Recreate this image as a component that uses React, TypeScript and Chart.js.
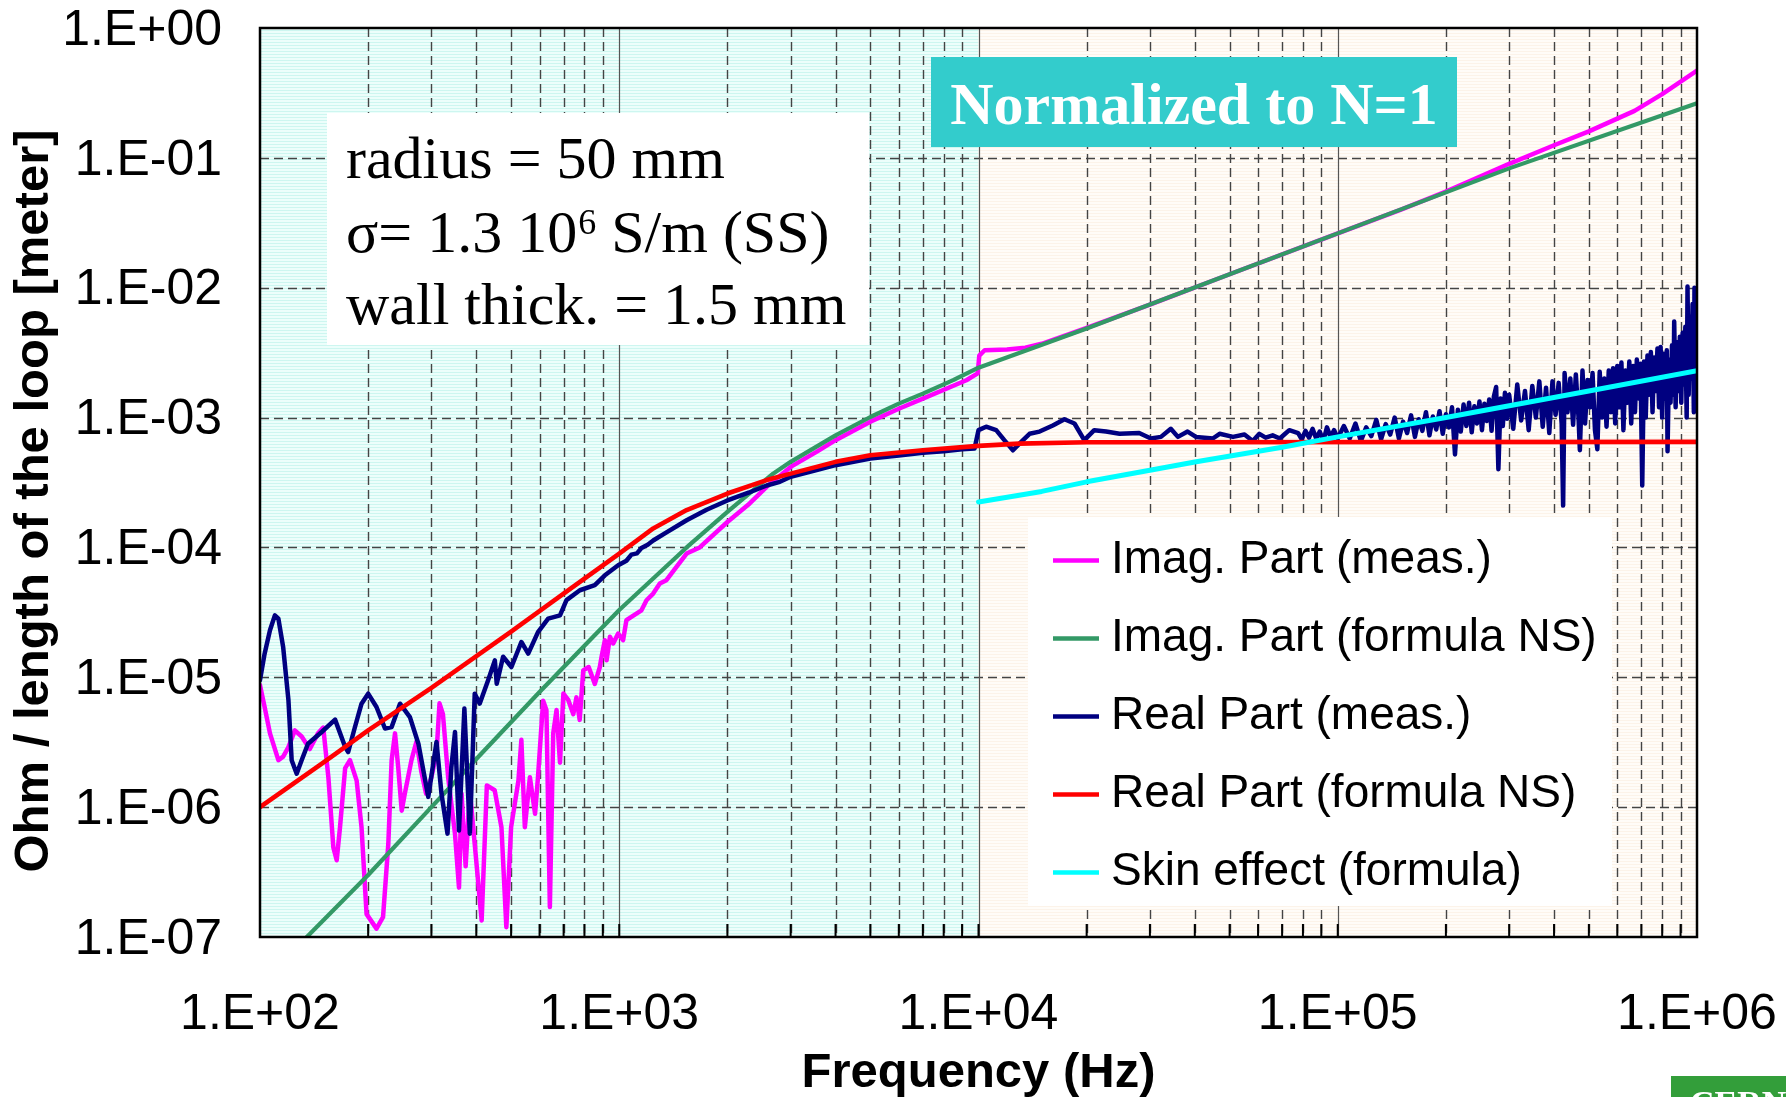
import React, { useEffect, useRef } from "react";
import { Chart, registerables } from "chart.js";

Chart.register(...registerables);

type Pt = [number, number];

const SANS = '"Liberation Sans", Arial, Helvetica, sans-serif';
const SERIF = '"Liberation Serif", "Times New Roman", Times, serif';

// Frequency (Hz) vs. impedance per unit length (Ohm/m)
const imagMeasured: Pt[] = [
  [100, 8.7e-6], [103, 5.9e-6], [106.6, 3.7e-6], [112.5, 2.3e-6], [116, 2.45e-6], [120, 2.9e-6],
  [125, 3.9e-6], [130.6, 3.5e-6], [137.6, 2.8e-6], [145, 3.7e-6], [150, 4.1e-6], [155, 1.7e-6],
  [160, 4.9e-7], [163.5, 3.9e-7], [167, 7.0e-7], [172.6, 2.0e-6], [178, 2.3e-6], [185.8, 1.6e-6],
  [191.7, 7.0e-7], [198, 1.5e-7], [211, 1.16e-7], [220, 1.42e-7], [227.6, 5.2e-7], [232.5, 2.3e-6],
  [237.6, 3.7e-6], [242.6, 2.0e-6], [248, 9.4e-7], [253, 1.27e-6], [264, 2.3e-6], [272.6, 3.2e-6],
  [281, 1.9e-6], [290, 1.27e-6], [300, 1.7e-6], [310, 2.6e-6], [316, 6.3e-6], [323, 5.2e-6],
  [334, 1.7e-6], [349, 6.2e-7], [358, 2.4e-7], [364, 1.27e-6], [373.6, 3.5e-7], [383.8, 1.35e-6],
  [396, 5.2e-7], [414, 1.34e-7], [428, 1.47e-6], [450, 1.35e-6], [470, 7.0e-7], [485, 1.19e-7],
  [500, 7.0e-7], [524, 1.6e-6], [534, 3.3e-6], [546, 7.0e-7], [564, 1.7e-6], [583, 8.9e-7],
  [594, 1.7e-6], [614, 6.6e-6], [627, 5.6e-6], [641, 1.7e-7], [655, 3.7e-6], [669, 5.6e-6],
  [684, 2.2e-6], [699, 7.5e-6], [721, 6.7e-6], [745, 5.2e-6], [760, 7.0e-6], [776, 4.7e-6],
  [794, 1.13e-5], [822, 1.2e-5], [855, 8.9e-6], [883, 1.2e-5], [893, 1.44e-5], [912, 1.93e-5],
  [922, 1.35e-5], [942, 2.05e-5], [962, 1.82e-5], [993, 2.17e-5], [1025, 1.93e-5], [1047, 2.75e-5],
  [1081, 2.92e-5], [1153, 3.28e-5], [1191, 3.92e-5], [1243, 4.41e-5], [1297, 5.27e-5], [1353, 5.59e-5],
  [1443, 7.08e-5], [1540, 8.97e-5], [1675, 1.0e-4], [2000, 1.57e-4], [2307, 2.18e-4], [2572, 2.93e-4],
  [3000, 4.17e-4], [3540, 5.44e-4], [4000, 6.7e-4], [5000, 9.3e-4], [6000, 1.17e-3], [7000, 1.4e-3],
  [9250, 1.94e-3], [9950, 2.19e-3], [10050, 3.0e-3], [10400, 3.3e-3], [12000, 3.35e-3], [13500, 3.45e-3],
  [15000, 3.7e-3], [20000, 4.9e-3], [30000, 7.4e-3], [50000, 1.27e-2], [100000, 2.62e-2], [150000, 4.0e-2],
  [200000, 5.5e-2], [300000, 9.0e-2], [400000, 0.125], [500000, 0.16], [670000, 0.23], [800000, 0.31],
  [1000000, 0.47],
];

const imagFormula: Pt[] = [
  [100, 4.0e-8], [135, 1.0e-7], [200, 3.0e-7], [300, 1.0e-6], [400, 2.35e-6], [600, 7.7e-6],
  [800, 1.75e-5], [1000, 3.3e-5], [1540, 1.0e-4], [2000, 1.88e-4], [2680, 3.7e-4], [3000, 4.56e-4],
  [4000, 7.3e-4], [5000, 1.01e-3], [6000, 1.28e-3], [7000, 1.53e-3], [8500, 1.94e-3], [10000, 2.42e-3],
  [20000, 4.85e-3], [50000, 1.27e-2], [100000, 2.62e-2], [300000, 8.3e-2], [1000000, 0.263],
];

const realMeasured: Pt[] = [
  [100, 9.5e-6], [103, 1.52e-5], [106.6, 2.3e-5], [110, 3.0e-5], [112.5, 2.83e-5], [116, 1.71e-5],
  [120, 6.65e-6], [122.5, 2.3e-6], [126.5, 1.81e-6], [130.6, 2.3e-6], [136, 3.08e-6], [148.5, 3.79e-6],
  [161.8, 4.72e-6], [172.6, 2.9e-6], [176, 2.66e-6], [183.8, 4.14e-6], [191.7, 6.26e-6], [200, 7.48e-6],
  [211, 5.9e-6], [222.8, 4.03e-6], [232.5, 4.14e-6], [245.3, 6.26e-6], [261.4, 4.94e-6], [276, 3.08e-6],
  [294, 1.2e-6], [310, 3.18e-6], [320, 1.27e-6], [332.6, 6.25e-7], [341, 2.04e-6], [349, 3.79e-6],
  [358, 6.6e-7], [370.6, 5.74e-6], [383.8, 6.25e-7], [396, 7.48e-6], [409, 6.27e-6], [431.5, 9.5e-6],
  [450.5, 1.35e-5], [456, 8.9e-6], [475, 1.44e-5], [501, 1.2e-5], [534, 1.87e-5], [558, 1.52e-5],
  [594, 2.23e-5], [634, 2.83e-5], [684, 3.0e-5], [713, 3.93e-5], [777, 4.68e-5], [855, 5.12e-5],
  [912, 6.1e-5], [993, 7.3e-5], [1047, 7.9e-5], [1081, 8.8e-5], [1120, 9.0e-5], [1153, 9.9e-5],
  [1200, 1.05e-4], [1243, 1.13e-4], [1350, 1.3e-4], [1540, 1.62e-4], [1750, 1.95e-4], [2000, 2.3e-4],
  [2300, 2.65e-4], [2572, 3.0e-4], [2800, 3.2e-4], [3000, 3.5e-4], [3500, 3.9e-4], [4000, 4.3e-4],
  [5000, 4.84e-4], [6000, 5.1e-4], [7000, 5.35e-4], [8000, 5.5e-4], [9000, 5.7e-4], [9750, 5.78e-4],
  [10000, 8.0e-4], [10500, 8.5e-4], [11200, 8.0e-4], [11800, 6.7e-4], [12470, 5.6e-4], [13150, 6.5e-4],
  [13870, 7.5e-4], [14790, 7.8e-4], [16100, 8.7e-4], [17350, 9.7e-4], [18500, 9.0e-4], [19700, 6.7e-4],
  [21000, 8.0e-4], [22650, 7.8e-4], [24700, 7.5e-4], [28000, 7.6e-4], [30200, 6.9e-4], [32200, 7.1e-4],
  [34300, 8.2e-4], [35900, 7.1e-4], [38200, 7.8e-4], [40300, 7.1e-4], [44900, 6.9e-4], [46900, 7.5e-4],
  [51100, 7.1e-4], [55000, 7.4e-4], [58000, 6.6e-4], [60500, 7.5e-4], [63000, 7.0e-4], [65900, 7.3e-4],
  [69000, 6.9e-4], [71000, 7.4e-4], [73300, 8.0e-4],
  [77600, 7.6e-4], [79400, 6.8e-4], [81300, 7.9e-4], [83200, 7.0e-4], [85100, 8.2e-4], [87100, 6.9e-4],
  [89100, 7.8e-4], [91200, 6.6e-4], [93300, 8.4e-4], [95500, 7.1e-4], [97700, 8.0e-4], [100000, 6.9e-4],
  [104000, 8.6e-4], [108000, 6.9e-4], [112000, 9.0e-4], [116000, 6.6e-4], [120000, 8.4e-4], [124000, 7.2e-4],
  [128000, 9.6e-4], [132000, 6.8e-4], [136000, 8.9e-4], [140000, 7.4e-4], [144000, 1.0e-3], [148000, 6.9e-4],
  [152000, 9.3e-4], [156000, 7.6e-4], [160000, 1.04e-3], [164000, 7.1e-4], [168000, 9.7e-4], [172000, 7.9e-4],
  [176000, 1.1e-3], [180000, 7.3e-4], [184000, 1.02e-3], [188000, 8.1e-4], [192000, 1.12e-3], [196000, 7.5e-4],
  [200000, 1.06e-3], [204000, 8.4e-4], [208000, 1.2e-3], [212000, 5.2e-4], [216000, 1.15e-3], [220000, 7.8e-4],
  [224000, 1.26e-3], [228000, 8.6e-4], [232000, 1.3e-3], [236000, 7.7e-4], [240000, 1.22e-3], [244000, 9.0e-4],
  [248000, 1.33e-3], [252000, 8.0e-4], [256000, 1.28e-3], [260000, 9.4e-4], [264000, 1.38e-3], [268000, 7.9e-4],
  [272000, 1.45e-3], [276000, 1.72e-3], [280000, 4.0e-4], [284000, 1.4e-3], [288000, 8.6e-4], [292000, 1.55e-3],
  [296000, 9.8e-4], [300000, 1.5e-3], [308000, 8.2e-4], [316000, 1.8e-3], [324000, 9.5e-4], [332000, 1.6e-3],
  [340000, 8.0e-4], [348000, 1.75e-3], [356000, 1.0e-3], [364000, 1.9e-3], [372000, 8.5e-4], [380000, 1.7e-3],
  [388000, 7.6e-4], [396000, 1.9e-3], [404000, 1.05e-3], [412000, 1.85e-3], [420000, 9.0e-4], [424000, 2.1e-4],
  [428000, 2.2e-3], [436000, 1.1e-3], [444000, 2.0e-3], [452000, 8.8e-4], [460000, 2.15e-3], [468000, 1.0e-3],
  [472000, 5.6e-4], [480000, 2.3e-3], [488000, 9.0e-4], [496000, 1.95e-3], [504000, 1.2e-3], [512000, 2.2e-3],
  [520000, 8.0e-4], [528000, 5.7e-4], [536000, 2.25e-3], [544000, 1.0e-3], [552000, 2.0e-3], [560000, 8.5e-4],
  [568000, 2.3e-3], [576000, 1.1e-3], [584000, 2.4e-3], [592000, 9.0e-4], [600000, 2.5e-3], [608000, 1.2e-3],
  [616000, 2.65e-3], [624000, 8.0e-4], [632000, 2.3e-3], [640000, 1.3e-3], [648000, 2.7e-3], [656000, 9.0e-4],
  [664000, 2.5e-3], [672000, 1.1e-3], [680000, 2.8e-3], [688000, 1.4e-3], [696000, 2.6e-3], [704000, 3.0e-4],
  [712000, 2.7e-3], [720000, 1.0e-3], [728000, 3.0e-3], [736000, 1.5e-3], [744000, 3.2e-3], [752000, 1.1e-3],
  [760000, 2.9e-3], [768000, 1.6e-3], [776000, 3.4e-3], [784000, 1.2e-3], [792000, 3.5e-3], [800000, 1.0e-3],
  [808000, 3.1e-3], [816000, 1.4e-3], [824000, 3.3e-3], [828000, 5.5e-4], [836000, 2.8e-3], [844000, 1.3e-3],
  [852000, 3.6e-3], [860000, 1.5e-3], [864000, 5.5e-3], [872000, 1.2e-3], [880000, 3.8e-3], [888000, 1.6e-3],
  [896000, 4.2e-3], [904000, 1.3e-3], [912000, 4.5e-3], [920000, 1.8e-3], [928000, 5.0e-3], [936000, 1.0e-3],
  [941000, 1.02e-2], [948000, 1.5e-3], [956000, 6.0e-3], [964000, 2.0e-3], [972000, 7.5e-3], [980000, 1.1e-3],
  [984000, 1.0e-2], [992000, 2.5e-3], [1000000, 9.0e-3],
];

const realFormula: Pt[] = [
  [100, 1.0e-6], [150, 2.2e-6], [200, 3.9e-6], [300, 8.3e-6], [500, 2.25e-5], [700, 4.4e-5],
  [1000, 8.97e-5], [1243, 1.4e-4], [1540, 1.94e-4], [2000, 2.6e-4], [2572, 3.3e-4], [3000, 3.7e-4],
  [4000, 4.56e-4], [5000, 5.13e-4], [7000, 5.6e-4], [10000, 6.05e-4], [13000, 6.3e-4], [20000, 6.45e-4],
  [1000000, 6.5e-4],
];

const skinEffect: Pt[] = [
  [10000, 2.24e-4], [15000, 2.7e-4], [20000, 3.2e-4], [30000, 3.93e-4], [40000, 4.55e-4], [70000, 5.9e-4],
  [100000, 7.1e-4], [200000, 1.0e-3], [500000, 1.6e-3], [1000000, 2.3e-3],
];

const seriesLabels = [
  "Imag. Part (meas.)",
  "Imag. Part (formula NS)",
  "Real Part (meas.)",
  "Real Part (formula NS)",
  "Skin effect (formula)",
];
const seriesColors = ["#FF00FF", "#339966", "#000080", "#FF0000", "#00FFFF"];
const seriesWidths = [4.5, 4.2, 4.5, 4.6, 5];
const seriesData = [imagMeasured, imagFormula, realMeasured, realFormula, skinEffect];

const xDecades = [1e2, 1e3, 1e4, 1e5, 1e6];
const yDecades = [1e-7, 1e-6, 1e-5, 1e-4, 1e-3, 1e-2, 1e-1, 1];
const minorSteps = [2, 3, 4, 5, 6, 7, 8, 9];

const xTitle = "Frequency (Hz)";
const yTitle = "Ohm / length of the loop [meter]";
const tagText = "Normalized to N=1";
const logoText = "CERN";

function sciLabel(v: number): string {
  const e = Math.round(Math.log10(v));
  return "1.E" + (e < 0 ? "-" : "+") + String(Math.abs(e)).padStart(2, "0");
}

function stripePattern(ctx: CanvasRenderingContext2D, line: string, base: string) {
  const c = document.createElement("canvas");
  c.width = 4;
  c.height = 3;
  const g = c.getContext("2d")!;
  g.fillStyle = base;
  g.fillRect(0, 0, 4, 3);
  g.fillStyle = line;
  g.fillRect(0, 0, 4, 1);
  return ctx.createPattern(c, "repeat")!;
}

// Two shaded frequency bands split at 10 kHz
const backdropPlugin = {
  id: "backdrop",
  beforeDraw(chart: any) {
    const { ctx, chartArea: a, scales } = chart;
    const split = scales.x.getPixelForValue(1e4);
    ctx.save();
    ctx.fillStyle = "#ffffff";
    ctx.fillRect(0, 0, chart.width, chart.height);
    ctx.fillStyle = stripePattern(ctx, "rgb(205,246,240)", "rgb(236,254,251)");
    ctx.fillRect(a.left, a.top, split - a.left, a.bottom - a.top);
    ctx.fillStyle = stripePattern(ctx, "rgb(252,243,233)", "rgb(255,252,248)");
    ctx.fillRect(split, a.top, a.right - split, a.bottom - a.top);
    ctx.restore();
  },
};

// Dashed minor/decade grid, solid decade verticals, inward tick marks
const gridPlugin = {
  id: "logGrid",
  beforeDatasetsDraw(chart: any) {
    const { ctx, chartArea: a, scales } = chart;
    const x = scales.x;
    const y = scales.y;
    ctx.save();
    ctx.strokeStyle = "#444444";
    ctx.lineWidth = 1.4;
    ctx.setLineDash([9, 5]);
    for (let i = 0; i < xDecades.length - 1; i++) {
      for (const m of minorSteps) {
        const px = Math.round(x.getPixelForValue(xDecades[i] * m)) + 0.5;
        ctx.beginPath();
        ctx.moveTo(px, a.top);
        ctx.lineTo(px, a.bottom);
        ctx.stroke();
      }
    }
    for (let i = 1; i < yDecades.length - 1; i++) {
      const py = Math.round(y.getPixelForValue(yDecades[i])) + 0.5;
      ctx.beginPath();
      ctx.moveTo(a.left, py);
      ctx.lineTo(a.right, py);
      ctx.stroke();
    }
    ctx.setLineDash([]);
    ctx.strokeStyle = "#555555";
    ctx.lineWidth = 1.2;
    for (let i = 1; i < xDecades.length - 1; i++) {
      const px = Math.round(x.getPixelForValue(xDecades[i])) + 0.5;
      ctx.beginPath();
      ctx.moveTo(px, a.top);
      ctx.lineTo(px, a.bottom);
      ctx.stroke();
    }
    ctx.strokeStyle = "#000000";
    ctx.lineWidth = 2;
    for (let i = 0; i < xDecades.length - 1; i++) {
      for (const m of [1, ...minorSteps]) {
        const px = x.getPixelForValue(xDecades[i] * m);
        ctx.beginPath();
        ctx.moveTo(px, a.bottom);
        ctx.lineTo(px, a.bottom - 13);
        ctx.stroke();
      }
    }
    ctx.restore();
  },
};

// Frame, parameter note, normalisation tag, legend, vertical axis title, logo
const overlayPlugin = {
  id: "overlay",
  afterDatasetsDraw(chart: any) {
    const { ctx, chartArea: a } = chart;
    ctx.save();
    ctx.strokeStyle = "#000";
    ctx.lineWidth = 2.5;
    ctx.strokeRect(a.left, a.top, a.right - a.left, a.bottom - a.top);

    // parameter note
    ctx.fillStyle = "#ffffff";
    ctx.fillRect(327, 113, 542, 232);
    ctx.fillStyle = "#000";
    ctx.textAlign = "left";
    ctx.textBaseline = "alphabetic";
    ctx.font = `60px ${SERIF}`;
    ctx.fillText("radius = 50 mm", 346, 178);
    let cx = 346;
    const part1 = "\u03C3= 1.3 10";
    ctx.fillText(part1, cx, 252);
    cx += ctx.measureText(part1).width;
    ctx.font = `36px ${SERIF}`;
    ctx.fillText("6", cx + 1, 234);
    cx += ctx.measureText("6").width + 1;
    ctx.font = `60px ${SERIF}`;
    ctx.fillText(" S/m (SS)", cx, 252);
    ctx.fillText("wall thick. = 1.5 mm", 346, 324);

    // tag
    ctx.fillStyle = "#33CCCC";
    ctx.fillRect(931, 57, 526, 90);
    ctx.fillStyle = "#ffffff";
    ctx.font = `bold 60px ${SERIF}`;
    ctx.textAlign = "center";
    ctx.fillText(tagText, 1194, 124);

    // legend
    ctx.fillStyle = "#ffffff";
    ctx.fillRect(1028, 517, 584, 389);
    ctx.textAlign = "left";
    ctx.textBaseline = "middle";
    ctx.font = `46px ${SANS}`;
    seriesLabels.forEach((label, i) => {
      const ly = 560.5 + i * 78;
      ctx.strokeStyle = seriesColors[i];
      ctx.lineWidth = 4.5;
      ctx.beginPath();
      ctx.moveTo(1053, ly);
      ctx.lineTo(1099, ly);
      ctx.stroke();
      ctx.fillStyle = "#000";
      ctx.fillText(label, 1111, ly);
    });

    // vertical axis title
    ctx.save();
    ctx.translate(34, 501);
    ctx.rotate(-Math.PI / 2);
    ctx.font = `bold 49px ${SANS}`;
    ctx.textAlign = "center";
    ctx.textBaseline = "middle";
    ctx.fillStyle = "#000";
    ctx.fillText(yTitle, 0, 0);
    ctx.restore();

    // logo corner
    ctx.fillStyle = "rgb(51,158,58)";
    ctx.fillRect(1671, 1076, 115, 21);
    ctx.fillStyle = "#ffffff";
    ctx.font = `bold 34px ${SERIF}`;
    ctx.textAlign = "left";
    ctx.textBaseline = "alphabetic";
    ctx.fillText(logoText, 1690, 1114);
    ctx.restore();
  },
};

export default function App() {
  const canvasRef = useRef<HTMLCanvasElement>(null);

  useEffect(() => {
    const canvas = canvasRef.current;
    if (!canvas) return;
    const chart = new Chart(canvas, {
      type: "scatter",
      data: {
        datasets: seriesData.map((pts, i) => ({
          label: seriesLabels[i],
          data: pts.map(([f, v]) => ({ x: f, y: v })),
          borderColor: seriesColors[i],
          backgroundColor: seriesColors[i],
          borderWidth: seriesWidths[i],
          pointRadius: 0,
          pointHoverRadius: 0,
          showLine: true,
          fill: false,
          tension: 0,
          borderJoinStyle: "round" as const,
          borderCapStyle: "round" as const,
          order: seriesData.length - i,
        })),
      },
      options: {
        animation: false,
        responsive: false,
        maintainAspectRatio: false,
        devicePixelRatio: 1,
        layout: { padding: { top: 28, right: 89, left: 0, bottom: 0 } },
        plugins: {
          legend: { display: false },
          tooltip: { enabled: false },
        },
        scales: {
          x: {
            type: "logarithmic",
            position: "bottom",
            min: 100,
            max: 1e6,
            afterBuildTicks: (s: any) => {
              s.ticks = xDecades.map((v) => ({ value: v }));
            },
            afterFit: (s: any) => {
              s.height = 160;
              s.paddingLeft = 0;
              s.paddingRight = 0;
            },
            grid: { display: false, drawTicks: false },
            border: { display: false },
            ticks: {
              autoSkip: false,
              maxRotation: 0,
              padding: 48,
              color: "#000",
              font: { family: SANS, size: 50 },
              callback: (v: any) => sciLabel(Number(v)),
            },
            title: {
              display: true,
              text: xTitle,
              color: "#000",
              font: { family: SANS, size: 49, weight: "bold" },
              padding: { top: 0, bottom: -6 },
            },
          },
          y: {
            type: "logarithmic",
            min: 1e-7,
            max: 1,
            afterBuildTicks: (s: any) => {
              s.ticks = yDecades.map((v) => ({ value: v }));
            },
            afterFit: (s: any) => {
              s.width = 260;
              s.paddingTop = 0;
              s.paddingBottom = 0;
            },
            grid: { display: false, drawTicks: false },
            border: { display: false },
            ticks: {
              autoSkip: false,
              padding: 38,
              labelOffset: 3,
              color: "#000",
              font: { family: SANS, size: 50 },
              callback: (v: any) => sciLabel(Number(v)),
            },
          },
        },
      },
      plugins: [backdropPlugin, gridPlugin, overlayPlugin],
    } as any);
    return () => chart.destroy();
  }, []);

  return (
    <div style={{ position: "fixed", left: 0, top: 0, width: 1786, height: 1097, background: "#fff" }}>
      <canvas ref={canvasRef} width={1786} height={1097} style={{ display: "block", width: 1786, height: 1097 }} />
    </div>
  );
}
